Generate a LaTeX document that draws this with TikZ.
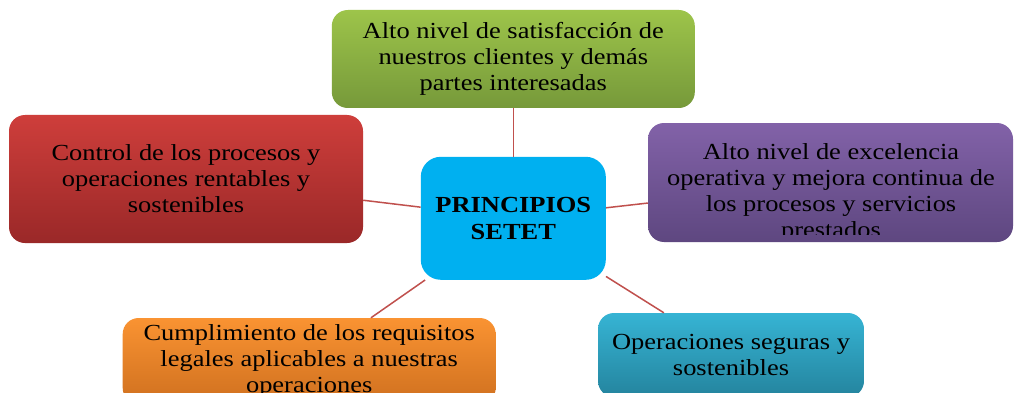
\documentclass[tikz,border=0pt]{standalone}
\usepackage{fontspec}
\setmainfont[FakeStretch=1.15]{Liberation Serif}
\definecolor{lnk}{HTML}{C0504D}
\definecolor{gT}{HTML}{9DC44A}\definecolor{gB}{HTML}{76993A}
\definecolor{pT}{HTML}{8262A8}\definecolor{pB}{HTML}{5E4780}
\definecolor{rT}{HTML}{CE3E3B}\definecolor{rB}{HTML}{9A2828}
\definecolor{oT}{HTML}{FA9332}\definecolor{oB}{HTML}{CF701F}
\definecolor{tT}{HTML}{36B4D4}\definecolor{tB}{HTML}{24849E}
\definecolor{cB}{HTML}{00B0F0}
\begin{document}
\begin{tikzpicture}[x=1pt,y=-1pt,
  box/.style={rectangle, rounded corners=16pt, align=center, inner sep=0pt,
    font=\fontsize{23}{26}\selectfont, text=black},
  link/.style={draw=lnk, line width=1.5pt}]
\useasboundingbox (0,0) rectangle (1016,393);
\fill[white] (0,0) rectangle (1016,393);
% boxes
\node[box, top color=gT, bottom color=gB, minimum width=363pt, minimum height=98pt] (top) at (513.3,59)
  {Alto nivel de satisfacción de\\nuestros clientes y demás\\partes interesadas};
\node[box, top color=rT, bottom color=rB, minimum width=354pt, minimum height=128pt] (left) at (186,179)
  {Control de los procesos y\\operaciones rentables y\\sostenibles};
\node[box, top color=pT, bottom color=pB, minimum width=365pt, minimum height=119pt] (right) at (830.5,182.5) {};
\begin{scope}
  \clip (648,123) rectangle (1013,234);
  \node[box] (righttext) at (831,193)
    {Alto nivel de excelencia\\operativa y mejora continua de\\los procesos y servicios\\prestados};
\end{scope}
\node[box, top color=oT, bottom color=oB, minimum width=373pt, minimum height=86pt] (bl) at (309.2,361)
  {Cumplimiento de los requisitos\\legales aplicables a nuestras\\operaciones};
\node[box, top color=tT, bottom color=tB, minimum width=266pt, minimum height=84pt] (br) at (731,355)
  {Operaciones seguras y\\sostenibles};
\node[box, fill=cB, rounded corners=20pt, minimum width=185pt, minimum height=123pt, font=\fontsize{23}{26.5}\selectfont\bfseries] (c) at (513.3,218.3)
  {PRINCIPIOS\\SETET};
% connectors
\draw[link] (c) -- (top);
\draw[link] (c) -- (left);
\draw[link] (c) -- (right);
\draw[link] (c) -- (bl);
\draw[link] (c) -- (br);
\end{tikzpicture}
\end{document}
